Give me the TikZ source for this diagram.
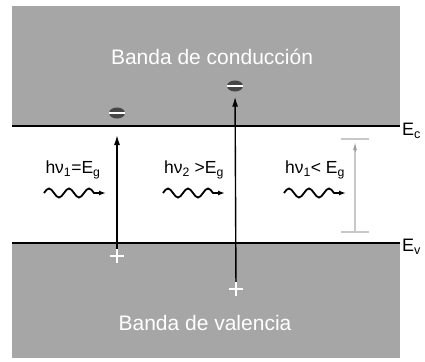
\documentclass[tikz,border=0pt]{standalone}
\usepackage{fontspec}
\setmainfont{Liberation Sans}
\usetikzlibrary{arrows.meta,shapes.geometric}
\definecolor{bandgray}{RGB}{166,166,166}
\definecolor{gapgray}{RGB}{200,200,200}
\definecolor{chargegray}{RGB}{70,70,70}

\tikzset{
  bandfill/.style={fill=bandgray, draw=none},
  level/.style={line width=2pt, black},
  bandlabel/.style={text=white, font=\fontsize{21}{23}\selectfont, inner sep=0pt},
  levellabel/.style={font=\fontsize{18}{20}\selectfont, anchor=west, inner sep=0pt},
  photonlabel/.style={font=\fontsize{17.5}{19}\selectfont, inner sep=0pt},
  electron/.style={ellipse, fill=chargegray, minimum width=16pt, minimum height=11pt, inner sep=0pt,
    path picture={\draw[white, line width=2.4pt] ([xshift=-1pt]path picture bounding box.west) -- ([xshift=1pt]path picture bounding box.east);}},
  hole/.style={minimum width=14pt, minimum height=14pt, inner sep=0pt,
    path picture={\draw[white, line width=2.2pt]
      (path picture bounding box.west) -- (path picture bounding box.east)
      (path picture bounding box.north) -- (path picture bounding box.south);}},
  excite/.style={line width=1.4pt, -{Latex[length=10pt, width=6pt]}},
  wave/.style={line width=1.8pt, -{Latex[length=7pt, width=5pt]}},
  gapbar/.style={gapgray, line width=2pt},
}
\newcommand{\photonpath}{sin ++(5,-4.5) cos ++(5,4.5) sin ++(5,4.5) cos ++(5,-4.5)
  sin ++(5,-4.5) cos ++(5,4.5) sin ++(5,4.5) cos ++(5,-4.5)
  sin ++(5,-4.5) cos ++(5,4.5) -- ++(12,0)}

\begin{document}
\begin{tikzpicture}[x=1pt, y=-1pt]
\useasboundingbox (0,0) rectangle (425,361);

% conduction and valence bands
\fill[bandfill] (12,6) rectangle (400,126);
\fill[bandfill] (12,243) rectangle (400,358);
\node[bandlabel] (cb) at (212,57) {Banda de conducción};
\node[bandlabel] (vb) at (205,323) {Banda de valencia};

% band edges
\coordinate (ecL) at (12,126);
\coordinate (ecR) at (400,126);
\coordinate (evL) at (12,243);
\coordinate (evR) at (400,243);
\draw[level] (ecL) -- (ecR);
\draw[level] (evL) -- (evR);
\node[levellabel] (ec) at (402,131) {E\textsubscript{c}};
\node[levellabel] (ev) at (402,247) {E\textsubscript{v}};

% electrons and holes
\node[electron] (e1) at (117,113) {};
\node[electron] (e2) at (235,86) {};
\node[hole] (h1) at (117,256) {};
\node[hole] (h2) at (236,289) {};

% transitions
\coordinate (t1) at (117,135);
\draw[excite] (h1) -- (t1);
\draw[excite, shorten >=5pt] (h2) -- (e2);

% band gap marker for sub-gap photon
\coordinate (gbot) at (355,232);
\coordinate (gtip) at (355,142);
\draw[gapbar] (341,139) -- (369,139);
\draw[gapbar] (341,232) -- (369,232);
\draw[gapbar] (gbot) -- (355,150);
\draw[gapgray!80!black, line width=1pt, -{Latex[length=8pt, width=4pt]}] (355,152) -- (gtip);

% photon labels
\node[photonlabel] (l1) at (73,170) {hν\textsubscript{1}=E\textsubscript{g}};
\node[photonlabel] (l2) at (194,170) {hν\textsubscript{2} >E\textsubscript{g}};
\node[photonlabel] (l3) at (315,170) {hν\textsubscript{1}< E\textsubscript{g}};

% photons
\coordinate (w1) at (44,193);
\coordinate (w2) at (163,193);
\coordinate (w3) at (284,193);
\draw[wave] (w1) \photonpath;
\draw[wave] (w2) \photonpath;
\draw[wave] (w3) \photonpath;
\end{tikzpicture}
\end{document}
